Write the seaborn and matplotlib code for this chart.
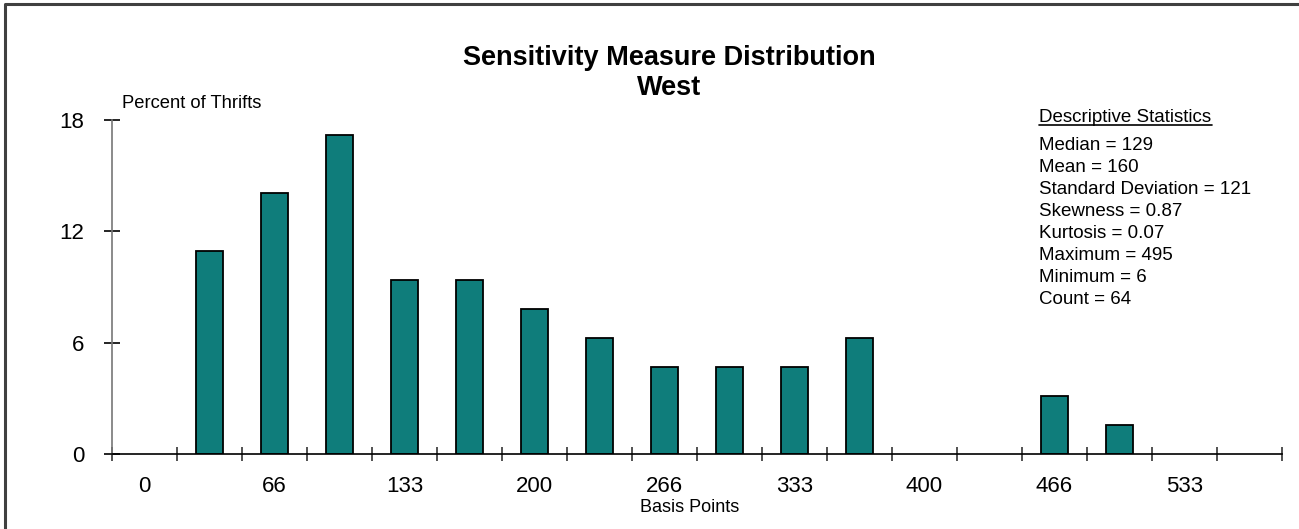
import matplotlib
matplotlib.use("Agg")
import matplotlib.pyplot as plt
import seaborn as sns
import pandas as pd
from matplotlib.lines import Line2D
from matplotlib.ticker import FixedLocator

# bins of ~33 basis points, percent of 64 thrifts in each
bin_labels = ["0", "33", "66", "100", "133", "166", "200", "233", "266",
              "300", "333", "366", "400", "433", "466", "500", "533", "566"]
percent = [0, 10.94, 14.06, 17.19, 9.38, 9.38, 7.81, 6.25, 4.69,
           4.69, 4.69, 6.25, 0, 0, 3.13, 1.56, 0, 0]
y_ticks = [0, 6, 12, 18]
stats_lines = ["Median = 129", "Mean = 160", "Standard Deviation = 121",
               "Skewness = 0.87", "Kurtosis = 0.07", "Maximum = 495",
               "Minimum = 6", "Count = 64"]

df = pd.DataFrame({"bin": bin_labels, "pct": percent})

sns.set_style("white")
plt.rcParams["font.family"] = ["Liberation Sans", "DejaVu Sans"]
plt.rcParams["text.color"] = "black"
plt.rcParams["xtick.color"] = "black"
plt.rcParams["ytick.color"] = "black"

W, H = 1299, 529
fig = plt.figure(figsize=(W / 100, H / 100), dpi=100)
ax = fig.add_axes([112 / W, 1 - 454 / H, (1282 - 112) / W, (454 - 120) / H])

sns.barplot(data=df, x="bin", y="pct", order=bin_labels, color="#0f7d7b",
            saturation=1, width=0.42, edgecolor="black", linewidth=1.3, ax=ax)
# empty bins: no outline on the axis
for p in ax.patches:
    if p.get_height() == 0:
        p.set_visible(False)

ax.set_xlim(-0.5, 17.5)
ax.set_ylim(0, 18)
ax.set_xlabel("")
ax.set_ylabel("")

# labels on every other bin, tick marks on the bin edges
ax.xaxis.set_major_locator(FixedLocator(range(0, 18, 2)))
ax.set_xticklabels([bin_labels[i] for i in range(0, 18, 2)])
ax.xaxis.set_minor_locator(FixedLocator([i - 0.5 for i in range(19)]))
ax.tick_params(axis="x", which="major", length=0, pad=16, labelsize=16)
ax.tick_params(axis="x", which="minor", length=10, direction="inout",
               width=1.2, color="#333333", bottom=True)
ax.set_yticks(y_ticks)
ax.tick_params(axis="y", length=12, direction="inout", width=1.2,
               color="black", pad=14, labelsize=16, left=True)

for s in ["top", "right"]:
    ax.spines[s].set_visible(False)
ax.spines["bottom"].set_color("black")
ax.spines["bottom"].set_linewidth(1.2)
ax.spines["left"].set_color("#777777")
ax.spines["left"].set_linewidth(1.2)

fig.text(122 / W, 1 - 103 / H, "Percent of Thrifts", fontsize=13.2,
         ha="left", va="center")
fig.text(690 / W, 1 - 508 / H, "Basis Points", fontsize=13,
         ha="center", va="center")

fig.text(669 / W, 1 - 58 / H, "Sensitivity Measure Distribution",
         fontsize=19.5, fontweight="bold", ha="center", va="center")
fig.text(669 / W, 1 - 88 / H, "West",
         fontsize=19.5, fontweight="bold", ha="center", va="center")

# descriptive statistics box
fig.text(1039 / W, 1 - 117 / H, "Descriptive Statistics", fontsize=13.5,
         ha="left", va="center")
fig.add_artist(Line2D([1039 / W, 1212 / W], [1 - 125 / H, 1 - 125 / H],
                      color="black", lw=1.2))
for i, line in enumerate(stats_lines):
    fig.text(1039 / W, 1 - (146 + 22 * i) / H, line, fontsize=13.5,
             ha="left", va="center")

# outer frame (only left and top edges visible)
fig.add_artist(Line2D([5 / W, 5 / W, 1.0], [0, 1 - 4 / H, 1 - 4 / H],
                      color="#404040", lw=2.2))

fig.savefig("out.png", dpi=100)
